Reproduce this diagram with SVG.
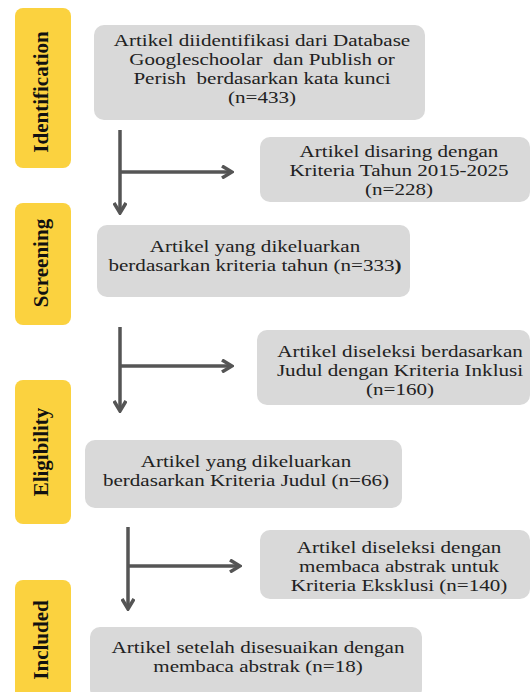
<svg xmlns="http://www.w3.org/2000/svg" width="530" height="692" viewBox="0 0 530 692">
<style>
.stage{fill:#fbd23f}
.box{fill:#d9d9d9}
.lbl{font-family:"Liberation Serif","Times New Roman",serif;font-weight:bold;font-size:21px;fill:#111;text-anchor:middle}
.t{font-family:"Liberation Serif","Times New Roman",serif;font-size:17px;fill:#222;text-anchor:middle}
.ln{stroke:#555;stroke-width:3.5;fill:none}
</style>
<defs>
<marker id="ah" viewBox="0 0 14 14" refX="12" refY="7" markerWidth="14" markerHeight="14" orient="auto" markerUnits="userSpaceOnUse">
<path d="M2,1 L12,7 L2,13" fill="none" stroke="#555" stroke-width="3.5"/>
</marker>
</defs>
<rect width="530" height="692" fill="#fff"/>
<g id="stage-identification"><rect class="stage" x="15" y="8" width="56" height="160" rx="8"/><text class="lbl" transform="translate(48,92) rotate(-90)">Identification</text></g>
<g id="stage-screening"><rect class="stage" x="15" y="203" width="56" height="122" rx="8"/><text class="lbl" transform="translate(48,263) rotate(-90)">Screening</text></g>
<g id="stage-eligibility"><rect class="stage" x="15" y="380" width="56" height="144" rx="8"/><text class="lbl" transform="translate(48,452) rotate(-90)">Eligibility</text></g>
<g id="stage-included"><rect class="stage" x="15" y="580" width="56" height="120" rx="8"/><text class="lbl" transform="translate(48,640) rotate(-90)">Included</text></g>

<g id="n1"><rect class="box" x="94" y="25" width="331" height="95" rx="10"/>
<g transform="matrix(1.24,0,0,1,-62.88,0)">
<text class="t" x="262" y="46">Artikel diidentifikasi dari Database</text>
<text class="t" x="262" y="65" xml:space="preserve">Googleschoolar  dan Publish or</text>
<text class="t" x="262" y="84" xml:space="preserve">Perish  berdasarkan kata kunci</text>
<text class="t" x="262" y="103">(n=433)</text></g></g>
<g id="n2"><rect class="box" x="260" y="137" width="270" height="65" rx="10"/>
<g transform="matrix(1.24,0,0,1,-95.76,0)">
<text class="t" x="399" y="157">Artikel disaring dengan</text>
<text class="t" x="399" y="176">Kriteria Tahun 2015-2025</text>
<text class="t" x="399" y="195">(n=228)</text></g></g>
<g id="n3"><rect class="box" x="97" y="225" width="313" height="72" rx="10"/>
<g transform="matrix(1.24,0,0,1,-61.2,0)">
<text class="t" x="255" y="252">Artikel yang dikeluarkan</text>
<text class="t" x="255" y="271">berdasarkan kriteria tahun (n=333<tspan font-weight="bold">)</tspan></text></g></g>
<g id="n4"><rect class="box" x="257" y="330" width="273" height="75" rx="10"/>
<g transform="matrix(1.24,0,0,1,-96,0)">
<text class="t" x="400" y="357">Artikel diseleksi berdasarkan</text>
<text class="t" x="400" y="376">Judul dengan Kriteria Inklusi</text>
<text class="t" x="400" y="395">(n=160)</text></g></g>
<g id="n5"><rect class="box" x="85" y="440" width="317" height="68" rx="10"/>
<g transform="matrix(1.24,0,0,1,-59.04,0)">
<text class="t" x="246" y="467">Artikel yang dikeluarkan</text>
<text class="t" x="246" y="486">berdasarkan Kriteria Judul (n=66)</text></g></g>
<g id="n6"><rect class="box" x="260" y="530" width="270" height="69" rx="10"/>
<g transform="matrix(1.24,0,0,1,-95.76,0)">
<text class="t" x="399" y="553">Artikel diseleksi dengan</text>
<text class="t" x="399" y="572">membaca abstrak untuk</text>
<text class="t" x="399" y="591">Kriteria Eksklusi (n=140)</text></g></g>
<g id="n7"><rect class="box" x="90" y="627" width="332" height="72" rx="10"/>
<g transform="matrix(1.24,0,0,1,-61.92,0)">
<text class="t" x="258" y="653">Artikel setelah disesuaikan dengan</text>
<text class="t" x="258" y="672">membaca abstrak (n=18)</text></g></g>

<g id="connectors">
<path class="ln" d="M120,130 V213" marker-end="url(#ah)"/>
<path class="ln" d="M120,172 H232" marker-end="url(#ah)"/>
<path class="ln" d="M120,327 V411" marker-end="url(#ah)"/>
<path class="ln" d="M120,366 H232" marker-end="url(#ah)"/>
<path class="ln" d="M128,527 V609" marker-end="url(#ah)"/>
<path class="ln" d="M128,566 H240" marker-end="url(#ah)"/>
</g>
</svg>
